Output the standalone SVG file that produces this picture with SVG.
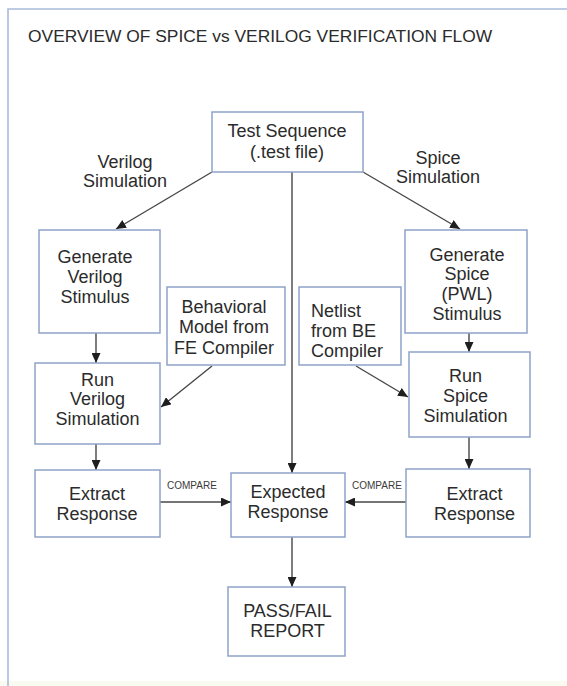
<svg xmlns="http://www.w3.org/2000/svg" width="567" height="686" viewBox="0 0 567 686">
<style>
  .box { fill: #ffffff; stroke: #8ea2c8; stroke-width: 1.5; }
  .frame { fill: none; stroke: #a9badb; stroke-width: 1.6; }
  .t { font-family: "Liberation Sans", Arial, sans-serif; font-size: 18px; fill: #2b2b2b; text-anchor: middle; }
  .tl { text-anchor: start; }
  .title { font-family: "Liberation Sans", Arial, sans-serif; font-size: 17.4px; fill: #2b2b2b; }
  .small { font-family: "Liberation Sans", Arial, sans-serif; font-size: 10px; fill: #3a3a3a; }
  .conn { fill: none; stroke: #474747; stroke-width: 1.4; marker-end: url(#arrow); }
</style>
<defs>
  <marker id="arrow" markerUnits="userSpaceOnUse" markerWidth="11" markerHeight="9" refX="10" refY="4.5" orient="auto">
    <path d="M0,0 L10,4.5 L0,9 z" fill="#1e1e1e"/>
  </marker>
</defs>
<rect x="0" y="0" width="567" height="686" fill="#ffffff"/>
<rect x="0" y="681" width="567" height="5" fill="#fbfaf1"/>
<path class="frame" d="M8,686 L8,9 L567,9"/>
<text class="title" x="28" y="42">OVERVIEW OF SPICE vs VERILOG VERIFICATION FLOW</text>

<g id="label-verilog">
  <text class="t" x="125" y="168">Verilog</text>
  <text class="t" x="125" y="187">Simulation</text>
</g>
<g id="label-spice">
  <text class="t" x="438" y="164">Spice</text>
  <text class="t" x="438" y="183">Simulation</text>
</g>

<g id="connectors">
  <line class="conn" x1="212" y1="172" x2="116" y2="229"/>
  <line class="conn" x1="363" y1="172" x2="460" y2="229"/>
  <line class="conn" x1="292" y1="172" x2="292" y2="473"/>
  <line class="conn" x1="96" y1="333" x2="96" y2="363"/>
  <line class="conn" x1="212" y1="366" x2="161" y2="407"/>
  <line class="conn" x1="96" y1="444" x2="96" y2="470"/>
  <line class="conn" x1="160" y1="502" x2="231" y2="502"/>
  <line class="conn" x1="356" y1="366" x2="408" y2="397"/>
  <line class="conn" x1="469" y1="333" x2="469" y2="352"/>
  <line class="conn" x1="469" y1="437" x2="469" y2="469"/>
  <line class="conn" x1="406" y1="502" x2="345" y2="502"/>
  <line class="conn" x1="292" y1="537" x2="292" y2="587"/>
  <text class="small" x="167" y="489">COMPARE</text>
  <text class="small" x="352" y="489">COMPARE</text>
</g>

<g id="test-sequence">
  <rect class="box" x="212" y="112" width="151" height="60"/>
  <text class="t" x="287" y="137">Test Sequence</text>
  <text class="t" x="287" y="158">(.test file)</text>
</g>
<g id="gen-verilog">
  <rect class="box" x="39" y="230" width="121" height="103"/>
  <text class="t" x="95" y="263">Generate</text>
  <text class="t" x="95" y="283">Verilog</text>
  <text class="t" x="95" y="303">Stimulus</text>
</g>
<g id="behavioral">
  <rect class="box" x="167" y="287" width="118" height="78"/>
  <text class="t" x="224" y="313">Behavioral</text>
  <text class="t" x="224" y="333">Model from</text>
  <text class="t" x="224" y="354">FE Compiler</text>
</g>
<g id="run-verilog">
  <rect class="box" x="35" y="363" width="125" height="81"/>
  <text class="t" x="97.5" y="386">Run</text>
  <text class="t" x="97.5" y="405">Verilog</text>
  <text class="t" x="97.5" y="425">Simulation</text>
</g>
<g id="extract-verilog">
  <rect class="box" x="35" y="470" width="125" height="67"/>
  <text class="t" x="97" y="500">Extract</text>
  <text class="t" x="97" y="520">Response</text>
</g>
<g id="expected">
  <rect class="box" x="231" y="473" width="114" height="64"/>
  <text class="t" x="288" y="498">Expected</text>
  <text class="t" x="288" y="518">Response</text>
</g>
<g id="gen-spice">
  <rect class="box" x="405" y="230" width="122" height="103"/>
  <text class="t" x="467" y="261">Generate</text>
  <text class="t" x="467" y="280">Spice</text>
  <text class="t" x="467" y="300">(PWL)</text>
  <text class="t" x="467" y="320">Stimulus</text>
</g>
<g id="netlist">
  <rect class="box" x="299" y="287" width="102" height="78"/>
  <text class="t tl" x="311" y="317">Netlist</text>
  <text class="t tl" x="311" y="337">from BE</text>
  <text class="t tl" x="311" y="357">Compiler</text>
</g>
<g id="run-spice">
  <rect class="box" x="409" y="352" width="121" height="85"/>
  <text class="t" x="465.5" y="382">Run</text>
  <text class="t" x="465.5" y="402">Spice</text>
  <text class="t" x="465.5" y="422">Simulation</text>
</g>
<g id="extract-spice">
  <rect class="box" x="406" y="469" width="124" height="68"/>
  <text class="t" x="474.5" y="500">Extract</text>
  <text class="t" x="474.5" y="520">Response</text>
</g>
<g id="passfail">
  <rect class="box" x="228" y="587" width="117" height="69"/>
  <text class="t" x="287.5" y="617">PASS/FAIL</text>
  <text class="t" x="287.5" y="637">REPORT</text>
</g>
</svg>
